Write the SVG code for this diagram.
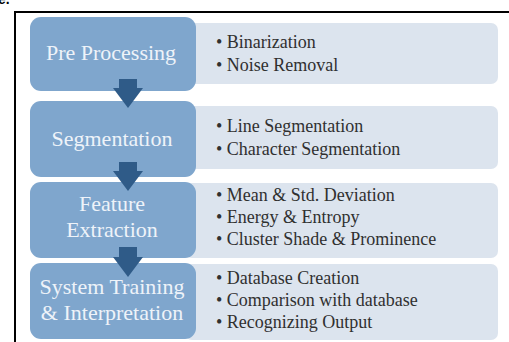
<svg xmlns="http://www.w3.org/2000/svg" width="509" height="342" viewBox="0 0 509 342">
<defs>
<style>
.stage{fill:#7fa6cd;}
.panel{fill:#dce4ee;}
.stxt{font-family:"Liberation Serif","Times New Roman",serif;font-size:22px;fill:#eef3f9;text-anchor:middle;}
.btxt{font-family:"Liberation Serif","Times New Roman",serif;font-size:18px;fill:#303030;}
.arrow{fill:#2f5b88;}
.frame{stroke:#000;stroke-width:2;fill:none;}
</style>
<linearGradient id="pg" x1="0" y1="0" x2="0" y2="1">
<stop offset="0" stop-color="#e0e7f0"/>
<stop offset="1" stop-color="#d8e1ec"/>
</linearGradient>
<linearGradient id="sg" x1="0" y1="0" x2="0" y2="1">
<stop offset="0" stop-color="#85abd1"/>
<stop offset="1" stop-color="#7aa2ca"/>
</linearGradient>
</defs>
<rect width="509" height="342" fill="#ffffff"/>
<text x="-2" y="4" font-family="Liberation Sans, Arial, sans-serif" font-size="14" font-weight="bold" fill="#000">e.</text>
<path class="frame" d="M15,342 V12 H509"/>

<g id="panel1">
<rect class="panel" x="185" y="23" width="313" height="61" rx="7" fill="url(#pg)"/>
<text class="btxt" x="216" y="48">• Binarization</text>
<text class="btxt" x="216" y="71">• Noise Removal</text>
</g>
<g id="panel2">
<rect class="panel" x="185" y="106" width="313" height="63" rx="7" fill="url(#pg)"/>
<text class="btxt" x="216" y="132">• Line Segmentation</text>
<text class="btxt" x="216" y="155">• Character Segmentation</text>
</g>
<g id="panel3">
<rect class="panel" x="185" y="183" width="313" height="75" rx="7" fill="url(#pg)"/>
<text class="btxt" x="216" y="201">• Mean &amp; Std. Deviation</text>
<text class="btxt" x="216" y="223">• Energy &amp; Entropy</text>
<text class="btxt" x="216" y="245">• Cluster Shade &amp; Prominence</text>
</g>
<g id="panel4">
<rect class="panel" x="185" y="264" width="313" height="76" rx="7" fill="url(#pg)"/>
<text class="btxt" x="216" y="284">• Database Creation</text>
<text class="btxt" x="216" y="306">• Comparison with database</text>
<text class="btxt" x="216" y="328">• Recognizing Output</text>
</g>

<g id="stage1">
<rect class="stage" x="30" y="17" width="166" height="74" rx="11" fill="url(#sg)"/>
<text class="stxt" x="111" y="60">Pre Processing</text>
</g>
<g id="stage2">
<rect class="stage" x="30" y="101" width="166" height="76" rx="11" fill="url(#sg)"/>
<text class="stxt" x="112" y="146">Segmentation</text>
</g>
<g id="stage3">
<rect class="stage" x="30" y="182" width="166" height="76" rx="11" fill="url(#sg)"/>
<text class="stxt" x="112" y="211">Feature</text>
<text class="stxt" x="112" y="237">Extraction</text>
</g>
<g id="stage4">
<rect class="stage" x="30" y="263" width="166" height="76" rx="11" fill="url(#sg)"/>
<text class="stxt" x="112" y="294">System Training</text>
<text class="stxt" x="112" y="320">&amp; Interpretation</text>
</g>

<g id="connectors">
<path class="arrow" d="M119,79 H137 V88 H143 L128,108 L113,88 H119 Z"/>
<path class="arrow" d="M119,162 H137 V171 H143 L128,191 L113,171 H119 Z"/>
<path class="arrow" d="M119,247 H137 V257 H143 L128,277 L113,257 H119 Z"/>
</g>
</svg>
